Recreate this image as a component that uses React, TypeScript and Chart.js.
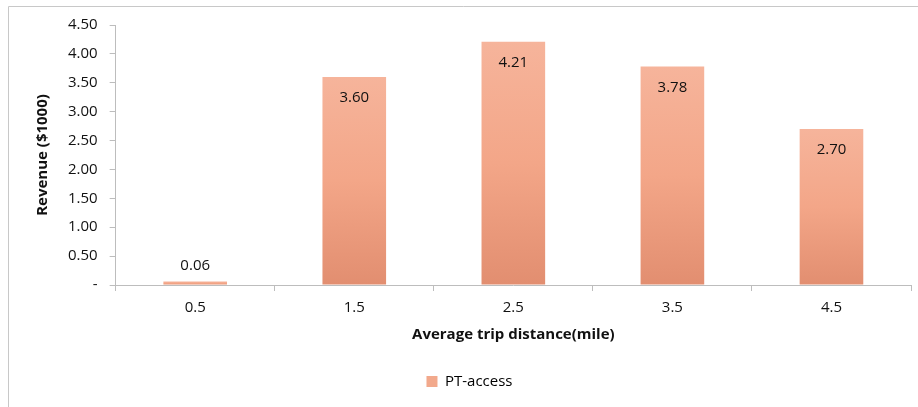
import React, { useEffect, useRef } from "react";
import { Chart, registerables } from "chart.js";

Chart.register(...registerables);

const categories = ["0.5", "1.5", "2.5", "3.5", "4.5"];
const revenue = [0.06, 3.6, 4.21, 3.78, 2.7];
const seriesName = "PT-access";
const yTitle = "Revenue ($1000)";
const xTitle = "Average trip distance(mile)";

const FONT = "'Open Sans', sans-serif";

const framePlugin = {
  id: "frame",
  beforeDraw(chart: any) {
    const ctx = chart.ctx;
    ctx.save();
    ctx.strokeStyle = "#c8c8c8";
    ctx.lineWidth = 1;
    ctx.beginPath();
    ctx.moveTo(8.5, chart.height);
    ctx.lineTo(8.5, 6.5);
    ctx.lineTo(chart.width, 6.5);
    ctx.stroke();
    ctx.restore();
  },
};

const labelPlugin = {
  id: "barLabels",
  afterDatasetsDraw(chart: any) {
    const ctx = chart.ctx;
    const meta = chart.getDatasetMeta(0);
    ctx.save();
    ctx.font = `15px ${FONT}`;
    ctx.fillStyle = "#111";
    ctx.textAlign = "center";
    ctx.textBaseline = "middle";
    meta.data.forEach((bar: any, i: number) => {
      const v = revenue[i];
      const inside = v > 0.5;
      const y = inside ? bar.y + 21 : bar.y - 16;
      ctx.fillText(v.toFixed(2), bar.x, y);
    });
    ctx.restore();
  },
};

export default function App() {
  const ref = useRef<HTMLCanvasElement>(null);
  useEffect(() => {
    if (!ref.current) return;
    const chart = new Chart(ref.current, {
      type: "bar",
      data: {
        labels: categories,
        datasets: [
          {
            label: seriesName,
            data: revenue,
            barPercentage: 0.8,
            categoryPercentage: 0.5,
            backgroundColor: (c: any) => {
              const ch = c.chart;
              if (c.type !== "data" || !ch.scales || !ch.scales.y) return "#f1a88a";
              const y = ch.scales.y;
              const top = y.getPixelForValue(c.raw);
              const bottom = y.getPixelForValue(0);
              if (!isFinite(top) || !isFinite(bottom) || top === bottom) return "#e8977a";
              const g = ch.ctx.createLinearGradient(0, top, 0, bottom);
              g.addColorStop(0, "#f6b49b");
              g.addColorStop(0.5, "#f3a688");
              g.addColorStop(1, "#e28e70");
              return g;
            },
            borderWidth: 0,
          },
        ],
      },
      options: {
        animation: false,
        responsive: false,
        maintainAspectRatio: false,
        layout: { padding: { left: 28, right: 7, top: 25, bottom: 8 } },
        plugins: {
          legend: {
            position: "bottom",
            labels: {
              font: { family: FONT, size: 15 },
              color: "#111",
              boxWidth: 11,
              boxHeight: 11,
              padding: 30,
              generateLabels: () => [
                {
                  text: seriesName,
                  fillStyle: "#f2a98c",
                  strokeStyle: "#f2a98c",
                  lineWidth: 0,
                  datasetIndex: 0,
                },
              ],
            },
          },
          tooltip: { enabled: false },
        },
        scales: {
          x: {
            offset: true,
            grid: {
              display: true,
              drawOnChartArea: false,
              drawTicks: true,
              tickLength: 6,
              offset: true,
              color: "#bdbdbd",
            },
            border: { display: true, color: "#bdbdbd" },
            ticks: { font: { family: FONT, size: 15 }, color: "#111", padding: 8 },
            title: {
              display: true,
              text: xTitle,
              font: { family: FONT, size: 15, weight: "bold" },
              color: "#111",
              padding: { top: 1, bottom: 0 },
            },
          },
          y: {
            min: 0,
            max: 4.5,
            ticks: {
              stepSize: 0.5,
              font: { family: FONT, size: 15 },
              color: "#111",
              padding: 12,
              callback: (v: any) => (Number(v) === 0 ? "-" : Number(v).toFixed(2)),
            },
            grid: {
              display: true,
              drawOnChartArea: false,
              drawTicks: true,
              tickLength: 6,
              color: "#bdbdbd",
            },
            border: { display: true, color: "#bdbdbd" },
            title: {
              display: true,
              text: yTitle,
              font: { family: FONT, size: 15, weight: "bold" },
              color: "#111",
              padding: { top: 6, bottom: 4 },
            },
          },
        },
      },
      plugins: [framePlugin, labelPlugin],
    });
    return () => chart.destroy();
  }, []);
  return (
    <div style={{ position: "fixed", left: 0, top: 0, width: 918, height: 407, background: "#fff" }}>
      <canvas ref={ref} width={918} height={407} style={{ width: 918, height: 407 }} />
    </div>
  );
}
